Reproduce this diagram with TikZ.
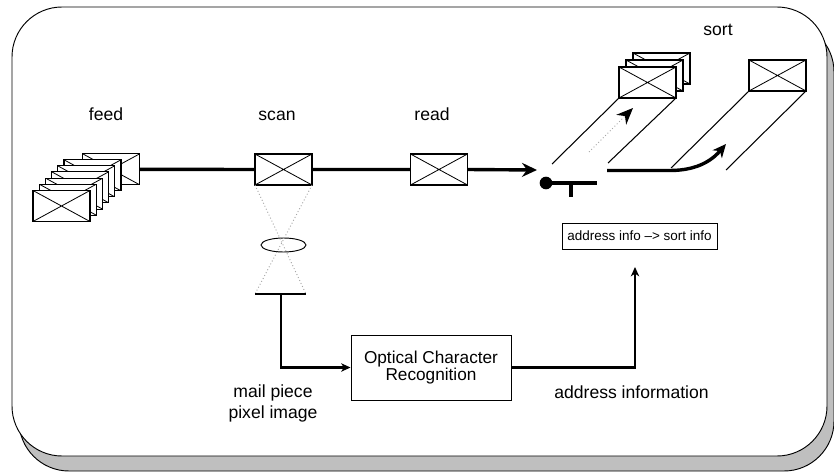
\documentclass[tikz,border=0pt]{standalone}
\usepackage{fontspec}
\setmainfont{Liberation Sans}
\usetikzlibrary{arrows.meta}
\usetikzlibrary{shapes.geometric}

\begin{document}
\begin{tikzpicture}[x=0.03cm, y=-0.03cm,
        envelope/.style={draw, fill=white, line width=0.9pt, minimum width=1.71cm,
            minimum height=0.93cm, inner sep=0pt, outer sep=0pt,
            path picture={\draw[line width=0.7pt]
                (path picture bounding box.north west) -- (path picture bounding box.south east)
                (path picture bounding box.south west) -- (path picture bounding box.north east);}},
        belt/.style={line width=2.9pt},
        wire/.style={line width=1.8pt},
        chute/.style={line width=0.9pt},
        ray/.style={draw=gray!70, dotted, line width=0.8pt},
        stagetext/.style={font=\fontsize{15}{18}\selectfont, inner sep=0pt},
        bigtip/.style={-{Stealth[length=0.45cm, width=0.42cm, inset=0.15cm]}},
        smalltip/.style={-{Stealth[length=0.28cm, width=0.25cm, inset=0.08cm]}}]
        \useasboundingbox (0,0) rectangle (834,472);
        \draw[fill=black!25, line width=0.8pt, rounded corners=1.5cm] (19,22) rectangle (834,471);
        \draw[fill=white, line width=0.8pt, rounded corners=1.5cm] (12,7) rectangle (827,456);
        \foreach \i/\x/\y in {7/111.2/169.3, 6/92.5/175.3, 5/86.2/181.3, 4/80.2/187.3,
                3/74.2/193.7, 2/67.8/199.7, 1/61.5/206}
            \node[envelope] (feed\i) at (\x,\y) {};
        \node[envelope] (scan) at (283.5,169.5) {};
        \node[envelope] (read) at (439,169.5) {};
        \node[envelope] (binCc) at (661.5,68.5) {};
        \node[envelope] (binCb) at (654.5,75.5) {};
        \node[envelope] (binCa) at (647.5,82.5) {};
        \node[envelope] (binD) at (777.5,75.5) {};
        \node[stagetext, anchor=base] (feedlbl) at (106,120) {feed};
        \node[stagetext, anchor=base] (scanlbl) at (277,120) {scan};
        \node[stagetext, anchor=base] (readlbl) at (432,120) {read};
        \node[stagetext, anchor=base] (sortlbl) at (718,35) {sort};
        \coordinate (gatein) at (537,170);
        \node[circle, fill, inner sep=0pt, minimum size=0.38cm] (gate) at (546,183) {};
        \coordinate (gateend) at (597,183);
        \coordinate (stemtop) at (571,183);
        \coordinate (stembot) at (571,197);
        \draw[belt] (feed7.east) -- (scan.west) (scan.east) -- (read.west);
        \draw[belt, bigtip] (read.east) -- (gatein);
        \draw[line width=2.6pt] (gate.center) -- (gateend) (stemtop) -- (stembot);
        \coordinate (laneAl) at (552,164);
        \coordinate (laneAr) at (608,163);
        \coordinate (laneBl) at (671,168);
        \coordinate (laneBr) at (726,170);
        \draw[chute] (laneAl) -- (binCa.south west) (laneAr) -- (binCa.south east);
        \draw[chute] (laneBl) -- (binD.south west) (laneBr) -- (binD.south east);
        \coordinate (skipfrom) at (589,152);
        \coordinate (skipto) at (633,108);
        \draw[ray, -{Stealth[color=black, length=0.5cm, width=0.42cm, inset=0.16cm]}] (skipfrom) -- (skipto);
        \coordinate (sortfrom) at (607,170.5);
        \coordinate (sortto) at (726,144);
        \draw[belt, -{Stealth[length=0.4cm, width=0.36cm, inset=0.12cm]}]
            (sortfrom) -- (670,170.5) .. controls (700,170.5) and (714,158) .. (sortto);
        \node[draw, line width=0.8pt, minimum width=4.65cm, minimum height=0.78cm, inner sep=0pt,
            font=\fontsize{11.5}{12}\selectfont] (rule) at (639.5,236) {address info --> sort info};
        \node[draw, ellipse, line width=0.8pt, minimum width=1.35cm, minimum height=0.42cm,
            inner sep=0pt] (lens) at (283.5,245) {};
        \coordinate (sensL) at (255,294);
        \coordinate (sensR) at (306,294);
        \coordinate (sensor) at (281,294);
        \draw[ray] (scan.south west) -- (sensR) (scan.south east) -- (sensL);
        \draw[wire] (sensL) -- (sensR);
        \node[draw, line width=0.8pt, minimum width=4.8cm, minimum height=1.95cm, align=center,
            font=\fontsize{14.7}{10.9}\selectfont] (ocr) at (431,367.5) {Optical Character\\Recognition};
        \draw[wire, smalltip] (sensor) |- (ocr.west);
        \coordinate (rulein) at (635,267);
        \draw[wire, smalltip] (ocr.east) -| (rulein);
        \node[stagetext, align=center] (pixlbl) at (273,403) {mail piece\\pixel image};
        \node[stagetext, anchor=base] (addrlbl) at (631.5,398) {address information};
    \end{tikzpicture}
\end{document}
